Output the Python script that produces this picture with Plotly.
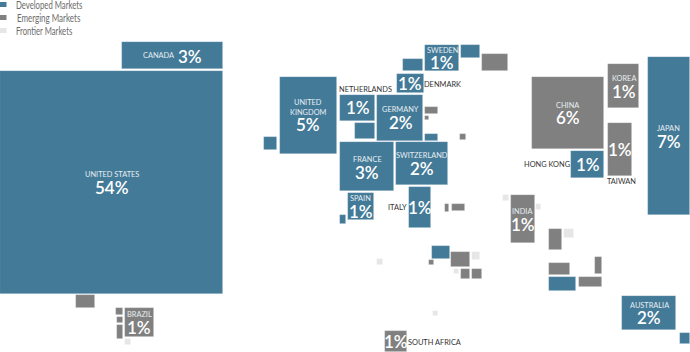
import json
import plotly.graph_objects as go

# Cartogram rectangles: the map position and size of each tile, per market group
dev_names = ["Canada","United States","United Kingdom","Netherlands","Belgium","Germany","Denmark","Norway","Sweden","Finland","Austria","France","Switzerland","Spain","Portugal","Italy","Hong Kong","Japan","Israel","Singapore","Australia","New Zealand","Ireland"]
dev_left  = [122,0,280,340,354.7,377,396.7,403.3,425.3,460.7,425,340.3,395.7,347.7,340.3,408.7,571.3,647.7,432.3,549,622.3,679.7,263.5]
dev_right = [222.7,222.7,336.5,375.3,375.3,423.3,423.7,423.3,459,480.3,438.3,394.3,447.7,374.3,345.7,431.3,604.3,690,450,576,675.7,690,277]
dev_top   = [42,71,76.7,94.7,123,94.7,74.3,59.3,45,45,133.7,142.3,142.3,193.3,215,187,151,57.3,246.3,277.3,296,333.3,137]
dev_bot   = [69,294,153.7,121,138.7,140.7,92.7,71,71,58.3,140.7,191.3,185,220,223.7,228,178,215,258.7,291.3,330,343.7,150]

emg_names = ["Russia","Poland","Czech Republic","Hungary","Greece","Turkey","China","Korea","Taiwan","India","South Africa","Mexico","Colombia","Peru","Chile","Brazil","Egypt","UAE","Qatar","Saudi Arabia","Thailand","Malaysia","Philippines","Indonesia"]
emg_left  = [482.3,425,425,460.3,444.7,452.3,531.7,607.7,607.7,510.7,384.7,76.3,115.7,117.3,117,124.7,429,451.3,460.7,472,549,549,595.3,579.3]
emg_right = [508,438.3,428.7,465.7,449.3,465.3,604.3,639.3,631.7,534.7,407.3,95.3,123,123.3,123.3,153.7,434,470.3,470.3,481.7,562.3,570.3,601.7,602.3]
emg_top   = [54,107,116,134.3,204,204,76.7,64.3,122.7,195.3,331,295.3,308,316.7,324.7,308,260.3,251.7,269.3,269.3,229.3,263.3,256.7,277.3]
emg_bot   = [71,114,120,139.7,212,211.3,149,107.7,176,243.3,352,308,315.3,323.3,338.7,336.7,265.3,267.3,279,278.7,250,275,273.7,287]

fro_names = ["Pakistan","Sri Lanka","Morocco","Kuwait","Bahrain","Vietnam","Kenya","Argentina"]
fro_left  = [503.3,536,377.3,472.3,453.7,564.3,433.3,125]
fro_right = [509,541.3,383,480.3,458.7,573.7,438.3,131.3]
fro_top   = [195.3,204.3,259.3,252,269.3,229.3,310.7,338.7]
fro_bot   = [201,209.7,265,260,274,238.3,315.7,345.3]

# Labels
tile_text = ["CANADA","UNITED","KINGDOM","UNITED STATES","FRANCE","GERMANY","SWITZERLAND","SPAIN","SWEDEN","CHINA","KOREA","JAPAN","INDIA","BRAZIL","AUSTRALIA"]
tile_x    = [158.3,308.3,308.3,111.5,367,400,421.7,360.7,442.3,567.7,623.7,668.7,522.3,139.3,649]
tile_y    = [55.5,102.7,112,174,159.3,109.7,155.7,198.7,50,105,78.3,128.3,211.3,314.3,305]
outer_text = ["NETHERLANDS","DENMARK","HONG KONG","TAIWAN","ITALY","SOUTH AFRICA"]
outer_x    = [365,442.7,546.7,621.7,397.7,434.3]
outer_y    = [89.7,84,164.7,181.7,207.3,342.3]
pct_text = ["3%","5%","54%","1%","2%","1%","1%","3%","2%","1%","1%","1%","6%","1%","1%","1%","7%","1%","1%","2%"]
pct_x    = [190,308,111.5,357.8,400.7,410,442,367,422,361,420,522.7,567.7,623.7,620,587.7,668.7,139.3,396,649.3]
pct_y    = [56.3,124.3,187.3,107.3,122.3,83.3,62.3,172,168.6,211.3,207,224.3,117.3,91,149.3,164.6,141,327,341.3,317.3]

legend_text  = ["Developed Markets","Emerging Markets","Frontier Markets"]
legend_x     = [49.7,48.2,44.6]
legend_y     = [4,17,30]
legend_width = [66.5,63.5,56.2]

BLUE = "#437a98"; GRAY = "#808080"; PALE = "#e6e6e6"
FONT = "Lato"

fig = go.Figure()
groups = [("Developed Markets",dev_names,dev_left,dev_right,dev_top,dev_bot,BLUE),
          ("Emerging Markets",emg_names,emg_left,emg_right,emg_top,emg_bot,GRAY),
          ("Frontier Markets",fro_names,fro_left,fro_right,fro_top,fro_bot,PALE)]
for name,names,l,r,t,b,col in groups:
    fig.add_trace(go.Bar(name=name,
        x=[(a+c)/2 for a,c in zip(l,r)], width=[c-a for a,c in zip(l,r)],
        base=t, y=[d-a for a,d in zip(t,b)], hovertext=names, hoverinfo="text",
        marker=dict(color=col,line=dict(width=0.7,color="rgba(255,255,255,0.35)"))))

ann=[]
for s,x,y in zip(tile_text,tile_x,tile_y):
    ann.append(dict(x=x,y=y,text=s,font=dict(size=7.4,color="#e6edf1",family=FONT)))
for s,x,y in zip(outer_text,outer_x,outer_y):
    ann.append(dict(x=x,y=y,text=s,font=dict(size=7.4,color="#333333",family=FONT)))
for s,x,y in zip(pct_text,pct_x,pct_y):
    ann.append(dict(x=x,y=y,text=s,font=dict(size=17,color="#ffffff",family=FONT,weight=600)))
shapes=[]
for s,x,y,col in zip(legend_text,legend_x,legend_y,[BLUE,GRAY,PALE]):
    ann.append(dict(x=x,y=y,text=s,font=dict(size=11,color="#6b6b6b",family=FONT)))
    shapes.append(dict(type="rect",xref="x",yref="y",x0=0,x1=6.5,y0=y-2,y1=y+3,fillcolor=col,line=dict(width=0)))
for a in ann:
    a.update(showarrow=False,xanchor="center",yanchor="middle",xref="x",yref="y")

fig.update_layout(width=690,height=352,margin=dict(l=0,r=0,t=0,b=0),
    paper_bgcolor="white",plot_bgcolor="white",barmode="overlay",bargap=0,showlegend=False,
    annotations=ann,shapes=shapes,
    xaxis=dict(range=[0,690],visible=False,fixedrange=True),
    yaxis=dict(range=[352,0],visible=False,fixedrange=True))

# The reference's legend font is condensed and none is installed: narrow the real text to fit.
widths = json.dumps(dict(zip(legend_text,legend_width)))
post = """
document.body.style.margin='0';
var W=%s;
function condense(){document.querySelectorAll('.annotation-text').forEach(function(t){
  var w=W[t.textContent]; if(w){t.setAttribute('textLength',w);t.setAttribute('lengthAdjust','spacingAndGlyphs');}
});}
condense();
Promise.resolve().then(condense);
setTimeout(condense,50);
""" % widths
fig.write_html("out.html",config={"displayModeBar":False},post_script=post)
